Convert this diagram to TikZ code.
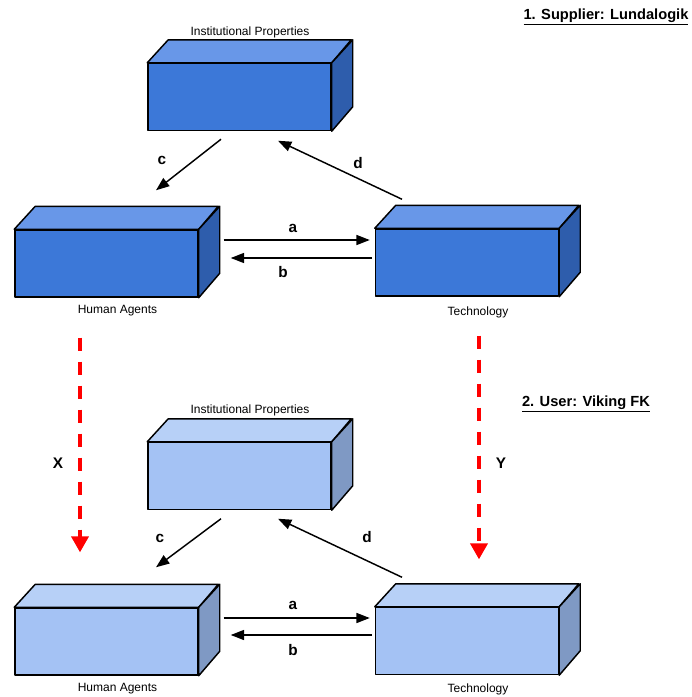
\documentclass[tikz,border=0pt]{standalone}
\usepackage{fontspec}
\setmainfont{Liberation Sans}
\usetikzlibrary{calc,arrows.meta}
\definecolor{dkFront}{HTML}{3C78D8}
\definecolor{dkTop}{HTML}{6897E8}
\definecolor{dkSide}{HTML}{2E5DAC}
\definecolor{ltFront}{HTML}{A4C2F4}
\definecolor{ltTop}{HTML}{B7D0F7}
\definecolor{ltSide}{HTML}{7F99C4}
\definecolor{redArrow}{HTML}{FF0000}
\tikzset{
  frontface/.style={draw=black, line width=1.1pt, line join=round, inner sep=0pt,
    minimum width=137.25pt, minimum height=50.25pt},
  face/.style={draw=black, line width=1.1pt, line join=round},
  boxlabel/.style={font=\fontsize{9}{11}\selectfont, inner sep=0pt},
  letter/.style={font=\fontsize{11.5}{13}\selectfont\bfseries, inner sep=0pt},
  header/.style={font=\fontsize{11}{13}\selectfont\bfseries, inner sep=0pt},
  flow/.style={draw=black, line width=1.1pt, -{Triangle[length=10pt,width=7.5pt]}},
  redflow/.style={draw=redArrow, line width=2.3pt, dash pattern=on 10pt off 8pt,
    -{Triangle[length=12pt,width=13pt]}}
}
\newcommand\cuboid[6]{%
  \node[frontface, fill=#4] (#1) at (#2,#3) {};
  \draw[face, fill=#5] (#1.north west) -- ++(21,-23) -- ++(183,0) -- (#1.north east) -- cycle;
  \draw[face, fill=#6] (#1.north east) -- ++(21,-23) -- ++(0,67) -- (#1.south east) -- cycle;
}
\begin{document}
\begin{tikzpicture}[x=0.75pt,y=-0.75pt]
\useasboundingbox (0,0) rectangle (692,697);
% top group
\cuboid{ip1}{239.5}{97}{dkFront}{dkTop}{dkSide}
\cuboid{ha1}{106.5}{263.5}{dkFront}{dkTop}{dkSide}
\cuboid{te1}{467}{262.5}{dkFront}{dkTop}{dkSide}
% bottom group
\cuboid{ip2}{239.5}{476}{ltFront}{ltTop}{ltSide}
\cuboid{ha2}{106.5}{641.5}{ltFront}{ltTop}{ltSide}
\cuboid{te2}{467}{641}{ltFront}{ltTop}{ltSide}

% box labels
\node[boxlabel] (lip1) at (250,32) {Institutional Properties};
\node[boxlabel] (lha1) at (117.5,311) {Human Agents};
\node[boxlabel] (lte1) at (478,312) {Technology};
\node[boxlabel] (lip2) at (250,410) {Institutional Properties};
\node[boxlabel] (lha2) at (117.5,689) {Human Agents};
\node[boxlabel] (lte2) at (478,689) {Technology};

% headers
\node[header] (h1) at (606,17) {\underline{1. Supplier: Lundalogik}};
\node[header] (h2) at (586,404) {\underline{2. User: Viking FK}};

% top connectors
\draw[flow] ($(ha1.east)+(25,-23.5)$) -- ($(te1.west)+(-5,-22.5)$);
\draw[flow] ($(te1.west)+(-3,-4.5)$) -- ($(ha1.east)+(32,-5.5)$);
\draw[flow] ($(ip1.south)+(-18.5,8)$) -- ($(ha1.north)+(49.5,-39)$);
\draw[flow] ($(te1.north)+(-65,-29)$) -- ($(ip1.south)+(38.5,9.5)$);
\node[letter] (a1) at (293,228) {a};
\node[letter] (b1) at (283,272) {b};
\node[letter] (c1) at (162,160) {c};
\node[letter] (d1) at (358,163) {d};

% bottom connectors
\draw[flow] ($(ha2.east)+(25,-23.5)$) -- ($(te2.west)+(-5,-23)$);
\draw[flow] ($(te2.west)+(-3,-6)$) -- ($(ha2.east)+(32,-6.5)$);
\draw[flow] ($(ip2.south)+(-18.5,8.5)$) -- ($(ha2.north)+(49.5,-40)$);
\draw[flow] ($(te2.north)+(-65,-29.5)$) -- ($(ip2.south)+(38.5,8.5)$);
\node[letter] (a2) at (293,605) {a};
\node[letter] (b2) at (293,650) {b};
\node[letter] (c2) at (160,538) {c};
\node[letter] (d2) at (367,537) {d};

% red dashed transfers
\draw[redflow] ($(ha1.south)+(-26.5,40)$) -- ($(ha2.north)+(-26.5,-55)$);
\draw[redflow] ($(te1.south)+(12,39)$) -- ($(te2.north)+(12,-47.5)$);
\node[letter] (xl) at (58,463) {X};
\node[letter] (yl) at (501,463) {Y};
\end{tikzpicture}
\end{document}
